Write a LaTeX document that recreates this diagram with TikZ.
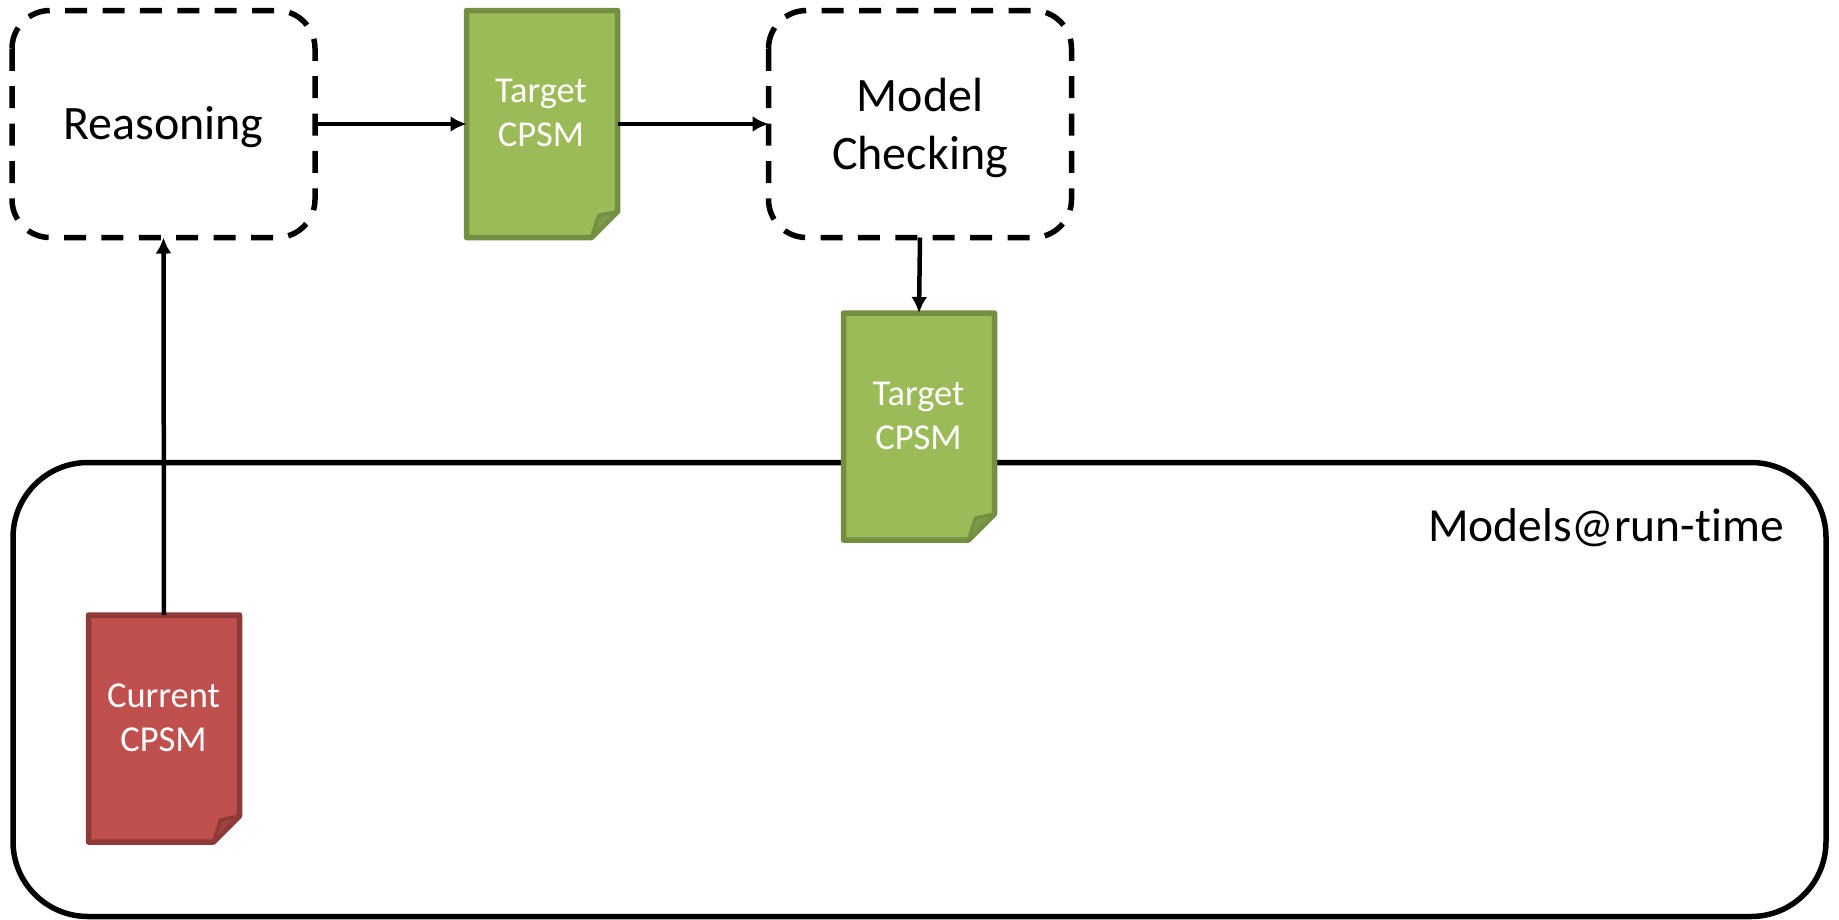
\documentclass[tikz,border=0pt]{standalone}
\usepackage{fontspec}
\setmainfont[Ligatures=NoCommon]{Carlito}
\usetikzlibrary{arrows.meta}
\definecolor{gfill}{HTML}{9BBB59}
\definecolor{gline}{HTML}{748F42}
\definecolor{gfold}{HTML}{7E9A48}
\definecolor{rfill}{HTML}{C0504D}
\definecolor{rline}{HTML}{8E3A38}
\definecolor{rfold}{HTML}{9C4240}
\tikzset{
  x=1pt,y=-1pt,
  procbox/.style={minimum width=303pt,minimum height=227pt,outer sep=0pt,inner sep=0pt},
  procline/.style={draw=black,line width=5.5pt,dash pattern=on 22pt off 15.4pt},
  conn/.style={line width=4.5pt,-{Latex[length=16pt,width=16pt]},black},
  bigtext/.style={font=\fontsize{48}{58}\selectfont,align=center,inner sep=0pt},
  doctext/.style={font=\fontsize{36.5}{44.5}\selectfont,align=center,text=white,inner sep=0pt},
  docshape/.style={minimum width=151pt,minimum height=227pt,outer sep=0pt,inner sep=0pt},
  docline/.style={line width=5.5pt,line join=round},
  foldline/.style={line width=3.5pt,line join=round}
}
\newcommand{\procnode}[3]{%
  \node[procbox] (#1) at (#2,#3) {};
  \draw[procline] ([yshift=-38pt]#1.north west) arc[start angle=180,end angle=90,radius=38pt]
    -- ([xshift=-38pt]#1.north east) arc[start angle=90,end angle=0,radius=38pt]
    -- ([yshift=38pt]#1.south east) arc[start angle=0,end angle=-90,radius=38pt]
    -- ([xshift=38pt]#1.south west) arc[start angle=-90,end angle=-180,radius=38pt]
    -- cycle;
}
\newcommand{\docnode}[6]{%
  \node[docshape] (#1) at (#2,#3) {};
  \draw[docline,draw=#5,fill=#4] (#1.north west) -- (#1.north east) -- ([yshift=26pt]#1.south east) -- ([xshift=-26pt]#1.south east) -- (#1.south west) -- cycle;
  \draw[foldline,draw=#5,fill=#6] ([xshift=-26pt]#1.south east) -- ([xshift=-19pt,yshift=22pt]#1.south east) -- ([yshift=26pt]#1.south east) -- cycle;
}
\begin{document}
\begin{tikzpicture}
\useasboundingbox (0,0) rectangle (1839,919);
\node[draw=black,line width=5.5pt,rounded corners=75pt,minimum width=1813pt,minimum height=454pt,outer sep=0pt] (runtime) at (919.5,689.5) {};
\node[anchor=base east,bigtext,font=\fontsize{47.5}{58}\selectfont] (runtimelabel) at (1784,541) {Models@run-time};
\procnode{reasoning}{163.5}{124}
\node[bigtext] (reasoninglabel) at (163.5,127) {Reasoning};
\procnode{checking}{920}{124}
\node[bigtext] (checkinglabel) at (920,128) {Model\\Checking};
\docnode{targetone}{542}{124}{gfill}{gline}{gfold}
\node[doctext] (targetonelabel) at (541,113) {Target\\CPSM};
\docnode{targettwo}{919}{426.5}{gfill}{gline}{gfold}
\node[doctext] (targettwolabel) at (918.5,416) {Target\\CPSM};
\docnode{current}{164}{728.5}{rfill}{rline}{rfold}
\node[doctext] (currentlabel) at (163.5,718) {Current\\CPSM};
\draw[conn] (current.north) -- (reasoning.south);
\draw[conn] (reasoning.east) -- (targetone.west);
\draw[conn] (targetone.east) -- (checking.west);
\draw[conn] (checking.south) -- (targettwo.north);
\end{tikzpicture}
\end{document}
